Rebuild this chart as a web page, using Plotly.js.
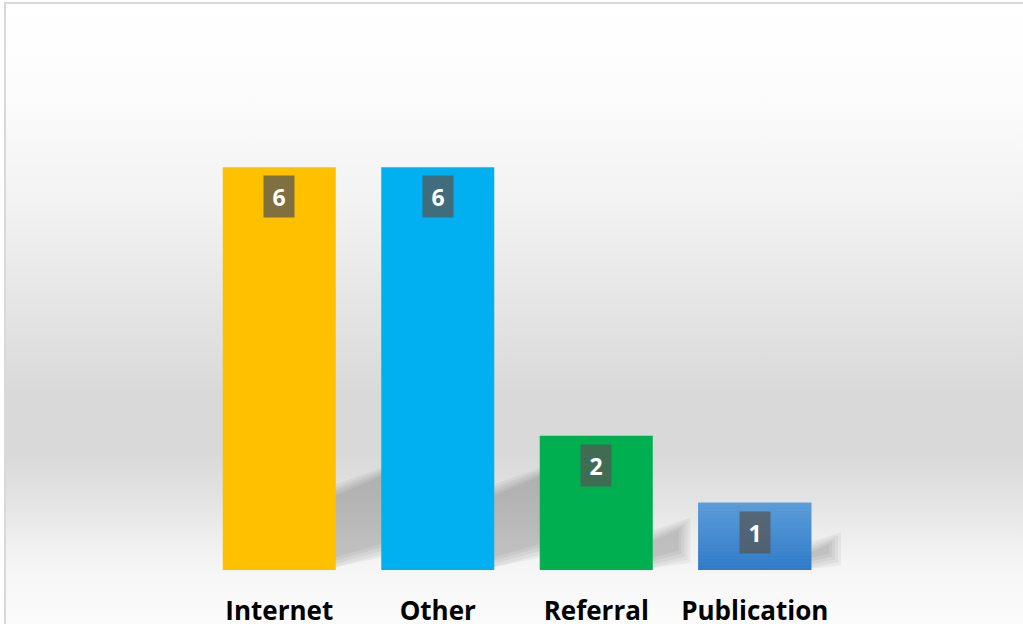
<!DOCTYPE html>
<html>
<head>
<meta charset="utf-8">
<script src="https://cdn.plot.ly/plotly-3.0.1.min.js"></script>
<style>
  html, body { margin: 0; padding: 0; width: 1023px; height: 624px; overflow: hidden; background: #ffffff; }
  #frame {
    position: absolute; left: 4px; top: 2px; width: 1040px; height: 660px;
    border: 2px solid #d9d9d9; box-sizing: border-box;
    background: linear-gradient(to bottom,
      #ffffff 0px, #fcfcfc 90px, #f2f2f2 200px, #e5e5e5 300px, #d9d9d9 390px,
      #d9d9d9 450px, #e4e4e4 500px, #f0f0f0 540px, #f7f7f7 572px, #fbfbfb 622px, #fbfbfb 660px);
  }
  #chart { position: absolute; left: 0; top: 0; width: 1023px; height: 624px; }
</style>
</head>
<body>
<div id="frame"></div>
<div id="chart"></div>
<script>
const categories = ['Internet', 'Other', 'Referral', 'Publication'];
const values = [6, 6, 2, 1];
const barColors = ['#FFC000', '#00B0F0', '#00B050', '#4A8ED2'];
const labelText = values.map(v => String(v));
// vertical gradient for the Publication bar (bottom colour, top colour)
const gradientBar = {index: 3, bottom: [46, 122, 200], top: [93, 157, 216]};

const W = 1023, H = 624;
const margin = {l: 200, r: 182, t: 100, b: 54};
const yMax = 7;
const bargap = 0.287;
const pxPerY = (H - margin.t - margin.b) / yMax;
const pxPerX = (W - margin.l - margin.r) / categories.length;
const halfBar = (1 - bargap) / 2;

const shapes = [];
// soft perspective shadows behind each bar (derived from bar values)
values.forEach((v, i) => {
  const hpx = v * pxPerY;
  const ext = 15 + 0.12 * hpx;
  const top = 10 + 0.17 * hpx;
  const xr = i + halfBar;
  [7, 4, 1, -2, -5].forEach(e => {
    const X = px => xr + px / pxPerX;
    const Y = px => px / pxPerY;
    const p = [
      [X(-12), Y(Math.max(0, 4 - e))],
      [X(ext + e), Y(Math.max(0, 4 + 0.33 * ext - e))],
      [X(ext + e), Y(top + 0.4 * ext + e)],
      [X(-12), Y(top - 4 + e)]
    ];
    shapes.push({
      type: 'path', xref: 'x', yref: 'y', layer: 'below',
      path: 'M' + p.map(q => q[0] + ',' + q[1]).join(' L') + ' Z',
      fillcolor: 'rgba(0,0,0,0.045)', line: {width: 0}
    });
  });
});
// gradient overlay strips on the Publication bar
(function () {
  const g = gradientBar, v = values[g.index], n = 24;
  for (let k = 0; k < n; k++) {
    const t = (k + 0.5) / n;
    const c = g.bottom.map((b, j) => Math.round(b + (g.top[j] - b) * t));
    shapes.push({
      type: 'rect', xref: 'x', yref: 'y', layer: 'above',
      x0: g.index - halfBar, x1: g.index + halfBar,
      y0: v * k / n, y1: v * (k + 1) / n,
      fillcolor: 'rgb(' + c.join(',') + ')', line: {width: 0}
    });
  }
})();

const annotations = categories.map((c, i) => ({
  x: c, y: values[i], xref: 'x', yref: 'y',
  text: '<b>' + labelText[i] + '</b>',
  showarrow: false, xanchor: 'center', yanchor: 'top', yshift: -8,
  width: 30, height: 41, borderpad: 0,
  bgcolor: 'rgba(85,85,85,0.75)',
  font: {family: 'Open Sans', size: 23, color: '#ffffff'}
}));

const trace = {
  type: 'bar', x: categories, y: values,
  marker: {color: barColors, line: {width: 0}},
  hoverinfo: 'x+y'
};

const layout = {
  width: W, height: H, margin: margin,
  paper_bgcolor: 'rgba(0,0,0,0)', plot_bgcolor: 'rgba(0,0,0,0)',
  bargap: bargap, showlegend: false,
  xaxis: {
    type: 'category', showgrid: false, zeroline: false, showline: false,
    automargin: false, ticks: '', ticklabelstandoff: 23,
    tickfont: {family: 'Open Sans', size: 26, color: '#000000', weight: 'bold'}
  },
  yaxis: {range: [0, yMax], visible: false, showgrid: false, zeroline: false, automargin: false},
  shapes: shapes,
  annotations: annotations
};

Plotly.newPlot('chart', [trace], layout, {displayModeBar: false, staticPlot: true});
</script>
</body>
</html>
